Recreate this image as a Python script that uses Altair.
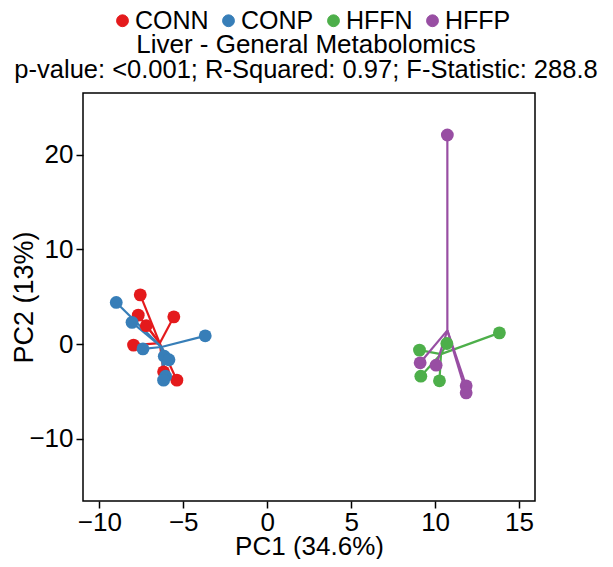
import altair as alt
import pandas as pd

groups = ["CONN", "CONP", "HFFN", "HFFP"]
colors = ["#E41A1C", "#377EB8", "#4DAF4A", "#984EA3"]

conn_x = [-7.56, -7.68, -7.2, -5.56, -7.96, -5.38, -6.17]
conn_y = [5.2, 3.06, 1.95, 2.88, -0.1, -3.8, -2.92]
conp_x = [-8.99, -8.05, -3.69, -7.4, -6.13, -5.85, -6.05, -6.17]
conp_y = [4.4, 2.3, 0.88, -0.5, -1.27, -1.65, -3.38, -3.8]
hffn_x = [9.07, 10.7, 13.83, 9.15, 10.26]
hffn_y = [-0.63, 0.07, 1.19, -3.38, -3.87]
hffp_x = [10.73, 9.11, 10.06, 11.85, 11.85]
hffp_y = [22.07, -1.97, -2.22, -4.4, -5.14]

centroid_x = [-6.4, -6.3, 10.35, 10.73]
centroid_y = [0.1, -0.3, -1.05, 1.45]

title_text = "Liver - General Metabolomics"
subtitle_text = "p-value: <0.001; R-Squared: 0.97; F-Statistic: 288.8"
x_title = "PC1 (34.6%)"
y_title = "PC2 (13%)"
x_ticks = [-10, -5, 0, 5, 10, 15]
y_ticks = [-10, 0, 10, 20]

rows = []
for g, xs, ys, cx, cy in zip(groups, [conn_x, conp_x, hffn_x, hffp_x],
                             [conn_y, conp_y, hffn_y, hffp_y], centroid_x, centroid_y):
    for a, b in zip(xs, ys):
        rows.append({"group": g, "pc1": a, "pc2": b, "cx": cx, "cy": cy})
df = pd.DataFrame(rows)

FONT = "Liberation Sans"

legend = alt.Legend(
    orient="none", legendX=27, legendY=-85, direction="horizontal", title=None,
    labelFontSize=25, labelFont=FONT, labelColor="black",
    symbolType="circle", symbolSize=140, symbolStrokeColor="black",
    symbolStrokeWidth=1, symbolOpacity=1, columnPadding=7, labelOffset=0,
)
color = alt.Color("group:N", scale=alt.Scale(domain=groups, range=colors), legend=legend)

xenc = alt.X("pc1:Q", scale=alt.Scale(domain=[-10.97, 15.95], nice=False, zero=False),
             axis=alt.Axis(values=x_ticks, title=x_title, titleX=226, titleY=53,
                           titleFontSize=26, titleBaseline="alphabetic",
                           titleAlign="center", labelPadding=1))
yenc = alt.Y("pc2:Q", scale=alt.Scale(domain=[-16.55, 26.5], nice=False, zero=False),
             axis=alt.Axis(values=y_ticks, title=y_title, titleX=-59, titleY=204,
                           titleAngle=270, titleBaseline="middle", titleAlign="center",
                           labelPadding=3))

rules = alt.Chart(df).mark_rule(strokeWidth=2.2).encode(
    x=xenc, y=yenc, x2="cx:Q", y2="cy:Q", color=color
)
points = alt.Chart(df).mark_point(filled=True, size=165, opacity=1).encode(
    x="pc1:Q", y="pc2:Q", color=color
)

chart = alt.layer(rules, points).properties(
    width=452, height=408,
    autosize=alt.AutoSizeParams(type="none"),
    padding={"left": 75, "top": 85, "right": 70, "bottom": 58},
    title=alt.TitleParams(
        text=title_text, subtitle=subtitle_text, fontSize=26, subtitleFontSize=25.5,
        font=FONT, subtitleFont=FONT, fontWeight="normal", color="black",
        subtitleColor="black", anchor="middle", frame="group", dx=-3, offset=-75,
        subtitlePadding=0,
    ),
).configure_view(stroke="black", strokeWidth=1.5).configure_axis(
    grid=False, domain=False, tickColor="black", tickWidth=1.5, tickSize=7,
    labelFont=FONT, labelFontSize=26, labelColor="black",
    titleFont=FONT, titleFontSize=27, titleFontWeight="normal", titleColor="black",
)

chart.save("out.html", embed_options={"renderer": "svg", "actions": False})
